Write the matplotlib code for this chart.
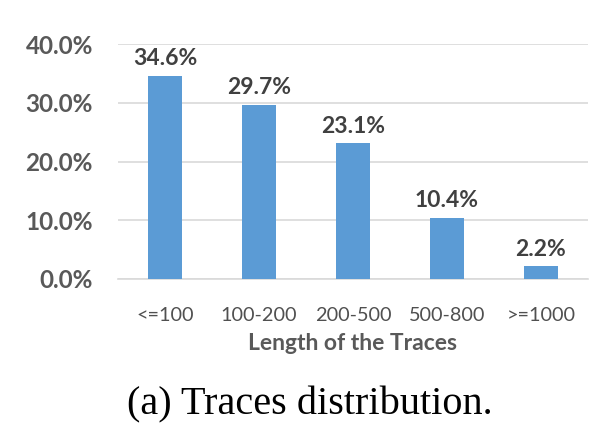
import matplotlib
matplotlib.use("Agg")
import matplotlib.pyplot as plt

categories = ["<=100", "100-200", "200-500", "500-800", ">=1000"]
values = [34.6, 29.7, 23.1, 10.4, 2.2]
yticks = [0, 10, 20, 30, 40]

plt.rcParams['font.family'] = ['Lato', 'DejaVu Sans']

fig = plt.figure(figsize=(6.02, 4.46), dpi=100)
ax = fig.add_axes([118/602, 1-279/446, 470/602, (279-44)/446])

x = range(len(categories))
ax.bar(x, values, width=0.36, color="#5B9BD5", zorder=3)
for xi, v in zip(x, values):
    ax.text(xi, v + 1.1, f"{v:.1f}%", ha="center", va="bottom",
            fontsize=16.5, fontweight="bold", color="#404040")

ax.set_xlim(-0.5, len(categories) - 0.5)
ax.set_ylim(0, 40)
ax.set_yticks(yticks)
ax.set_yticklabels([f"{t:.1f}%" for t in yticks], fontsize=17.5,
                   fontweight="bold", color="#595959")
ax.set_xticks(list(x))
ax.set_xticklabels(categories, fontsize=14.3, color="#505050")
ax.tick_params(axis="both", length=0)
ax.tick_params(axis="y", pad=18)
ax.tick_params(axis="x", pad=20)
ax.grid(axis="y", color="#D9D9D9", linewidth=1.2, zorder=0)
for s in ["top", "right", "left"]:
    ax.spines[s].set_visible(False)
ax.spines["bottom"].set_color("#D9D9D9")
ax.spines["bottom"].set_linewidth(1.2)
ax.set_xlabel("Length of the Traces", fontsize=16.5, fontweight="bold",
              color="#595959", labelpad=7)

fig.text(310/602, 1-405/446, "(a) Traces distribution.", ha="center",
         va="center", fontsize=29, family=["Liberation Serif", "DejaVu Serif"],
         color="black")

fig.savefig("out.png", dpi=100)
